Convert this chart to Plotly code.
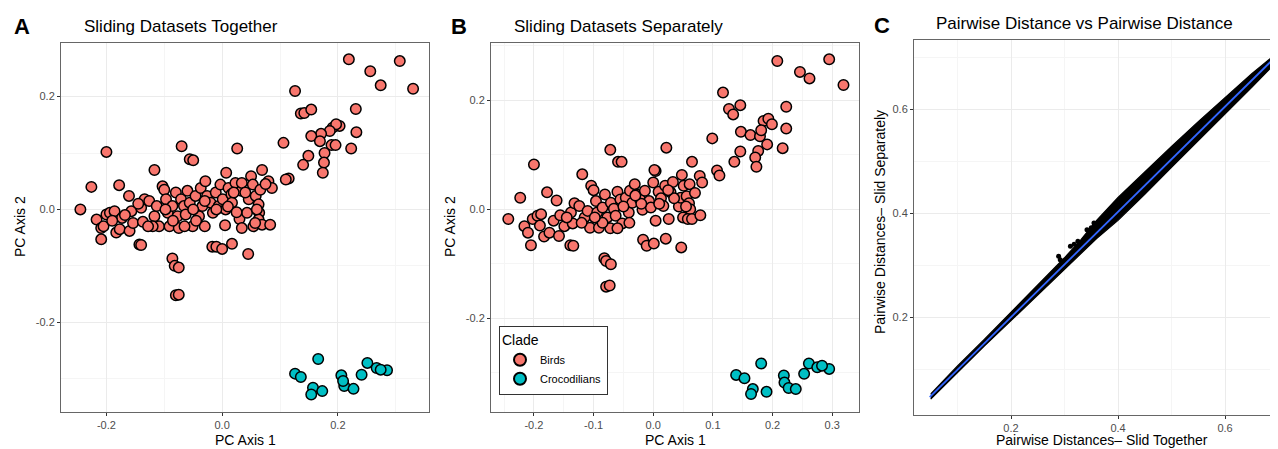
import plotly.graph_objects as go

# ---------------- Data ----------------
# Panel A: Sliding datasets together (PC1, PC2)
birds_A = [
    (0.219, 0.266), (0.307, 0.263), (0.256, 0.245), (0.274, 0.220), (0.330, 0.214),
    (0.126, 0.210), (0.136, 0.170), (0.142, 0.171), (0.154, 0.177), (0.231, 0.178),
    (0.232, 0.137), (0.203, 0.148), (0.191, 0.145), (0.197, 0.151), (0.186, 0.139),
    (0.171, 0.134), (0.154, 0.130), (0.169, 0.121), (0.189, 0.114), (0.196, 0.114),
    (0.223, 0.108), (0.106, 0.118), (0.177, 0.100), (0.149, 0.095), (0.176, 0.083),
    (0.140, 0.079), (0.174, 0.065), (0.115, 0.055), (0.110, 0.053),
    (-0.200, 0.102), (-0.070, 0.112), (0.026, 0.108), (-0.056, 0.089), (-0.050, 0.087),
    (-0.117, 0.070), (0.007, 0.065), (0.069, 0.070), (-0.226, 0.040), (-0.178, 0.043),
    (-0.161, 0.024), (-0.245, 0.000), (-0.209, -0.053), (-0.143, -0.062), (-0.140, -0.063),
    (-0.017, -0.066), (-0.010, -0.066), (0.000, -0.070), (0.017, -0.061), (0.045, -0.079),
    (-0.086, -0.087), (-0.082, -0.100), (-0.075, -0.103), (-0.080, -0.152), (-0.075, -0.151),
    (-0.217, -0.018), (-0.209, -0.033), (-0.200, -0.009), (-0.194, -0.006), (-0.186, -0.003),
    (-0.183, -0.041), (-0.177, -0.035), (-0.173, -0.015), (-0.160, -0.038), (-0.157, -0.003),
    (-0.154, -0.024), (-0.140, 0.003), (-0.134, 0.018), (-0.137, -0.022), (-0.126, 0.015),
    (-0.117, -0.012), (-0.113, 0.006), (-0.109, -0.030), (-0.103, 0.041), (-0.100, 0.035),
    (-0.097, 0.018), (-0.094, -0.006), (-0.091, -0.030), (-0.086, 0.006), (-0.080, 0.030),
    (-0.077, -0.012), (-0.075, -0.033), (-0.071, 0.018), (-0.066, 0.006), (-0.063, -0.009),
    (-0.060, 0.033), (-0.056, 0.012), (-0.051, -0.030), (-0.046, 0.024), (-0.040, -0.012),
    (-0.037, 0.038), (-0.034, 0.006), (-0.029, 0.050), (-0.026, 0.024), (-0.020, 0.012),
    (-0.016, -0.006), (-0.011, 0.030), (-0.006, 0.006), (-0.003, 0.044), (0.001, 0.018),
    (0.006, 0.000), (0.005, -0.028), (0.011, 0.038), (0.016, 0.027), (0.017, 0.012),
    (0.023, 0.047), (0.030, -0.017), (0.033, 0.033), (0.034, 0.047), (0.043, -0.006),
    (0.046, 0.018), (0.050, 0.059), (0.053, 0.044), (0.054, -0.030), (0.058, 0.024),
    (0.063, 0.009), (0.064, -0.006), (0.066, 0.035), (0.063, -0.018), (0.069, -0.027),
    (0.080, 0.050), (0.083, -0.027), (0.086, 0.038), (0.057, -0.024), (0.034, -0.033),
    (-0.120, -0.030), (-0.145, 0.010), (-0.205, -0.030), (-0.190, -0.020), (-0.168, -0.010),
    (-0.128, -0.030), (-0.085, -0.020), (-0.065, -0.030), (-0.045, -0.020), (-0.030, -0.030),
    (-0.010, 0.000), (0.010, 0.005), (0.025, -0.005), (0.040, 0.030), (0.075, 0.045),
    (-0.050, 0.000), (-0.098, 0.000), (0.020, 0.030), (-0.030, 0.015), (0.060, 0.000),
]
croc_A = [
    (0.166, -0.265), (0.126, -0.291), (0.136, -0.297), (0.157, -0.316), (0.154, -0.328),
    (0.173, -0.322), (0.206, -0.294), (0.211, -0.313), (0.227, -0.318), (0.209, -0.304),
    (0.241, -0.293), (0.251, -0.272), (0.267, -0.281), (0.285, -0.285), (0.274, -0.284),
]

# Panel B: Sliding datasets separately (PC1, PC2)
birds_B = [
    (0.208, 0.272), (0.295, 0.275), (0.246, 0.252), (0.262, 0.240), (0.319, 0.228),
    (0.117, 0.214), (0.127, 0.184), (0.134, 0.174), (0.146, 0.191), (0.223, 0.188),
    (0.223, 0.148), (0.147, 0.142), (0.163, 0.136), (0.179, 0.134), (0.185, 0.162),
    (0.193, 0.166), (0.199, 0.156), (0.181, 0.145), (0.191, 0.119), (0.176, 0.107),
    (0.146, 0.106), (0.099, 0.130), (0.217, 0.112), (0.171, 0.095), (0.136, 0.087),
    (0.173, 0.078), (0.107, 0.071), (0.111, 0.062),
    (0.022, 0.113), (-0.072, 0.109), (-0.059, 0.087), (-0.053, 0.087), (-0.200, 0.082),
    (-0.119, 0.064), (0.004, 0.070), (0.065, 0.087), (-0.223, 0.021), (-0.178, 0.031),
    (-0.162, 0.016), (-0.243, -0.018), (-0.205, -0.066), (-0.139, -0.066), (-0.134, -0.067),
    (-0.017, -0.056), (-0.011, -0.067), (0.001, -0.063), (0.021, -0.054), (0.047, -0.070),
    (-0.082, -0.090), (-0.079, -0.095), (-0.071, -0.101), (-0.079, -0.142), (-0.073, -0.140),
    (-0.216, -0.031), (-0.210, -0.043), (-0.202, -0.018), (-0.194, -0.012), (-0.188, -0.009),
    (-0.183, -0.050), (-0.174, -0.043), (-0.167, -0.021), (-0.158, -0.049), (-0.156, -0.011),
    (-0.149, -0.031), (-0.138, -0.006), (-0.132, 0.011), (-0.135, -0.026), (-0.124, 0.006),
    (-0.115, -0.015), (-0.110, -0.003), (-0.106, -0.034), (-0.104, 0.043), (-0.100, 0.035),
    (-0.096, 0.015), (-0.094, -0.006), (-0.091, -0.034), (-0.085, 0.003), (-0.081, 0.027),
    (-0.077, -0.015), (-0.072, -0.035), (-0.071, 0.012), (-0.066, 0.001), (-0.063, -0.012),
    (-0.060, 0.032), (-0.055, 0.018), (-0.052, -0.026), (-0.046, 0.021), (-0.041, -0.006),
    (-0.039, 0.034), (-0.035, 0.012), (-0.031, 0.046), (-0.028, 0.027), (-0.022, 0.018),
    (-0.018, -0.001), (-0.014, 0.034), (-0.007, 0.015), (-0.004, 0.003), (0.000, 0.049),
    (0.002, 0.072), (0.004, -0.021), (0.009, 0.032), (0.013, 0.020), (0.017, 0.006),
    (0.020, 0.043), (0.026, -0.018), (0.029, 0.031), (0.033, 0.050), (0.043, 0.005),
    (0.046, 0.021), (0.048, 0.063), (0.051, 0.043), (0.050, -0.015), (0.056, 0.024),
    (0.060, 0.011), (0.062, 0.000), (0.061, 0.046), (0.058, -0.018), (0.065, -0.018),
    (0.078, 0.061), (0.079, -0.011), (0.082, 0.049),
    (-0.120, -0.025), (-0.145, -0.015), (-0.190, -0.030), (-0.085, -0.025), (-0.060, -0.035),
    (-0.040, -0.025), (-0.020, 0.010), (0.010, 0.010), (0.035, 0.020), (0.070, 0.030),
    (-0.050, 0.005), (-0.098, -0.015), (0.025, 0.035), (-0.030, 0.025), (0.055, 0.005),
]
croc_B = [
    (0.181, -0.283), (0.139, -0.304), (0.153, -0.310), (0.167, -0.330), (0.164, -0.339),
    (0.190, -0.335), (0.219, -0.305), (0.220, -0.318), (0.227, -0.328), (0.239, -0.330),
    (0.253, -0.302), (0.261, -0.283), (0.275, -0.290), (0.295, -0.293), (0.283, -0.287),
]

# Panel C: pairwise distances (envelope of the dense point cloud)
dist_together = [0.050, 0.100, 0.150, 0.200, 0.250, 0.280, 0.300, 0.330, 0.360,
                 0.400, 0.450, 0.500, 0.550, 0.600, 0.650, 0.690]
dist_sep_upper = [0.052, 0.106, 0.157, 0.209, 0.261, 0.292, 0.314, 0.348, 0.386,
                  0.430, 0.480, 0.528, 0.576, 0.622, 0.668, 0.702]
dist_sep_lower = [0.042, 0.094, 0.144, 0.193, 0.242, 0.271, 0.291, 0.321, 0.351,
                  0.386, 0.436, 0.488, 0.539, 0.591, 0.642, 0.684]
outlier_together = [0.289, 0.292, 0.311, 0.318, 0.325, 0.342, 0.350, 0.355]
outlier_separate = [0.317, 0.310, 0.336, 0.340, 0.346, 0.368, 0.372, 0.381]
fit_x = [0.048, 0.692]
fit_y = [0.046, 0.698]

clade_names = ["Birds", "Crocodilians"]
clade_colors = ["#F8766D", "#00BFC4"]

FONT = "Liberation Sans, Arial, Helvetica, sans-serif"

# ---------------- Figure ----------------
fig = go.Figure()

def add_pts(pts, name, color, xa, ya, show):
    xs = [p[0] for p in pts]
    ys = [p[1] for p in pts]
    fig.add_trace(go.Scatter(
        x=xs, y=ys, mode="markers", name=name, showlegend=show,
        xaxis=xa, yaxis=ya,
        marker=dict(size=10.5, color=color, line=dict(color="black", width=1.5)),
    ))

add_pts(birds_A, clade_names[0], clade_colors[0], "x", "y", False)
add_pts(croc_A, clade_names[1], clade_colors[1], "x", "y", False)
add_pts(birds_B, clade_names[0], clade_colors[0], "x2", "y2", True)
add_pts(croc_B, clade_names[1], clade_colors[1], "x2", "y2", True)

# Panel C band
fig.add_trace(go.Scatter(x=dist_together, y=dist_sep_lower, mode="lines",
                         line=dict(color="black", width=1.2), showlegend=False,
                         xaxis="x3", yaxis="y3"))
fig.add_trace(go.Scatter(x=dist_together, y=dist_sep_upper, mode="lines",
                         line=dict(color="black", width=1.2), fill="tonexty",
                         fillcolor="black", showlegend=False,
                         xaxis="x3", yaxis="y3"))
fig.add_trace(go.Scatter(x=outlier_together, y=outlier_separate, mode="markers",
                         marker=dict(size=5, color="black"), showlegend=False,
                         xaxis="x3", yaxis="y3"))
fig.add_trace(go.Scatter(x=fit_x, y=fit_y, mode="lines",
                         line=dict(color="#3366FF", width=1.8), showlegend=False,
                         xaxis="x3", yaxis="y3"))

# page body has an 8px margin: figure is placed at (8, 8)
OFF = 8
W, H = 1278 - OFF, 449 - OFF
def px_x(p):
    return (p - OFF) / W
def px_y(p):
    return 1 - (p - OFF) / H

grid_major = "#EBEBEB"
grid_minor = "#F5F5F5"

def axis(domain, rng, tickvals, minor_dtick, minor_tick0, anchor):
    return dict(
        domain=domain, range=rng, anchor=anchor,
        tickmode="array", tickvals=tickvals,
        ticktext=["%.1f" % v for v in tickvals],
        showgrid=True, gridcolor=grid_major, gridwidth=1,
        minor=dict(dtick=minor_dtick, tick0=minor_tick0, showgrid=True,
                   gridcolor=grid_minor, gridwidth=1, ticks=""),
        showline=True, mirror=True, linecolor="#666666", linewidth=1,
        ticks="outside", ticklen=3, tickcolor="#333333", tickwidth=1,
        tickfont=dict(family=FONT, size=11, color="#4D4D4D"),
        zeroline=False, automargin=False,
    )

yd_ab = [px_y(412), px_y(43)]
yd_c = [px_y(415), px_y(40)]

fig.update_layout(
    width=W, height=H,
    margin=dict(l=0, r=0, t=0, b=0),
    paper_bgcolor="white", plot_bgcolor="white",
    font=dict(family=FONT),
    xaxis=axis([px_x(61), px_x(429)], [-0.2785, 0.3575], [-0.2, 0.0, 0.2], 0.1, -0.3, "y"),
    yaxis=axis(yd_ab, [-0.359, 0.295], [-0.2, 0.0, 0.2], 0.1, -0.3, "x"),
    xaxis2=axis([px_x(491), px_x(859)], [-0.272, 0.345], [-0.2, -0.1, 0.0, 0.1, 0.2, 0.3], 0.05, -0.25, "y2"),
    yaxis2=axis(yd_ab, [-0.372, 0.305], [-0.2, 0.0, 0.2], 0.1, -0.3, "x2"),
    xaxis3=axis([px_x(914), px_x(1278)], [0.0187, 0.699], [0.2, 0.4, 0.6], 0.1, 0.1, "y3"),
    yaxis3=axis(yd_c, [0.0115, 0.733], [0.2, 0.4, 0.6], 0.1, 0.1, "x3"),
    legend=dict(
        x=px_x(499), y=px_y(326), xanchor="left", yanchor="top",
        bgcolor="white", bordercolor="#333333", borderwidth=1,
        title=dict(text="Clade", font=dict(family=FONT, size=14, color="black")),
        font=dict(family=FONT, size=11, color="black"),
        itemsizing="constant", tracegroupgap=0, traceorder="normal",
    ),
    showlegend=True,
)

annos = [
    ("<b>A</b>", 12, 27, 22), ("<b>B</b>", 449, 27, 22), ("<b>C</b>", 872, 25, 22),
    ("Sliding Datasets Together", 82, 26, 17), ("Sliding Datasets Separately", 512, 26, 17),
    ("Pairwise Distance vs Pairwise Distance", 934, 23, 17),
]
for text, xp, yp, size in annos:
    fig.add_annotation(text=text, x=px_x(xp), y=px_y(yp), xref="paper", yref="paper",
                       xanchor="left", yanchor="middle", showarrow=False,
                       font=dict(family=FONT, size=size, color="black"))

# axis titles
axis_titles = [
    ("PC Axis 1", 245, 440, 0), ("PC Axis 2", 20, 227, -90),
    ("PC Axis 1", 675, 440, 0), ("PC Axis 2", 450, 227, -90),
    ("Pairwise Distances\u2013 Slid Together", 1102, 440, 0),
    ("Pairwise Distances\u2013 Slid Separately", 880, 222, -90),
]
for text, xp, yp, ang in axis_titles:
    fig.add_annotation(text=text, x=px_x(xp), y=px_y(yp), xref="paper", yref="paper",
                       xanchor="center", yanchor="middle", showarrow=False, textangle=ang,
                       font=dict(family=FONT, size=14, color="black"))

fig.write_html("out.html")
